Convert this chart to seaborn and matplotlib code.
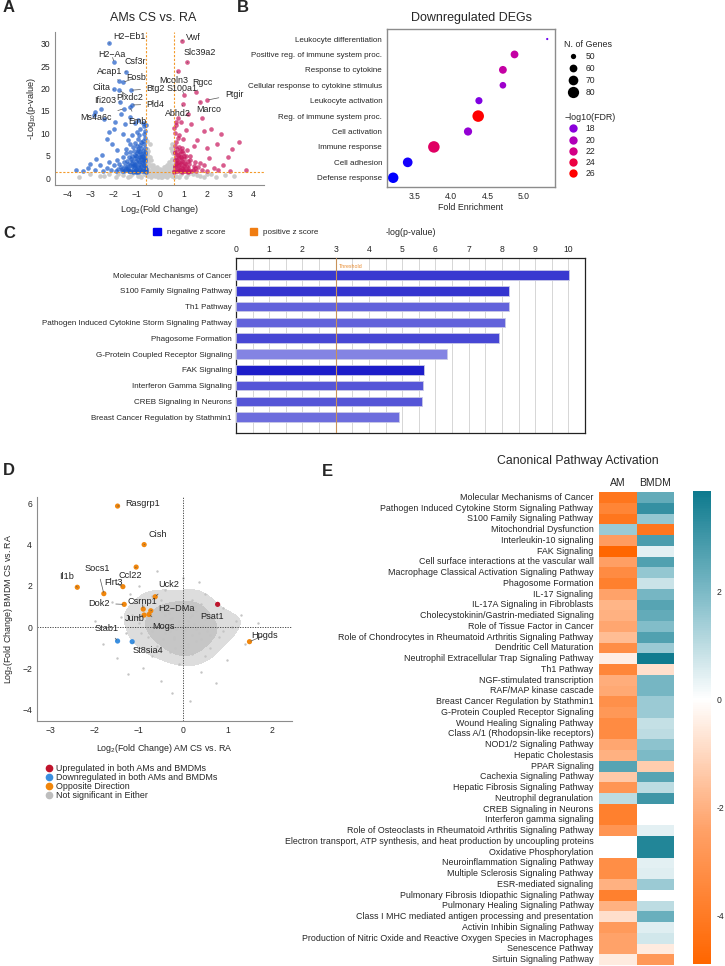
import numpy as np
import pandas as pd
import seaborn as sns
import matplotlib.pyplot as plt
from matplotlib.colors import LinearSegmentedColormap, ListedColormap, Normalize
from matplotlib.lines import Line2D
from matplotlib.patches import Patch

W, H = 725, 966

# ---------------- panel A: volcano, AMs CS vs RA ----------------
a_down_genes = ['H2−Eb1', 'H2−Aa', 'Csf3r', 'Acap1', 'Fosb', 'Ciita', 'Plxdc2', 'Btg2',
                'Ifi203', 'Pld4', 'Ms4a6c', 'Emb']
a_down_gx = [-2.19, -1.98, -1.48, -1.75, -1.58, -2.0, -1.75, -1.26, -1.72, -1.22, -1.55, -1.3]
a_down_gy = [30.1, 25.9, 23.7, 21.6, 21.4, 19.8, 19.6, 19.6, 17.0, 16.3, 15.5, 15.8]
a_down_tx = [-1.33, -2.08, -1.08, -2.18, -1.03, -2.54, -1.29, -0.19, -2.38, -0.19, -2.75, -0.98]
a_down_ty = [31.5, 27.5, 26.0, 23.7, 22.4, 20.2, 18.0, 20.0, 17.2, 16.5, 13.5, 12.6]

a_up_genes = ['Vwf', 'Slc39a2', 'Mcoln3', 'S100a1', 'Rgcc', 'Ptgir', 'Marco', 'Abhd2']
a_up_gx = [0.93, 1.17, 0.79, 1.03, 1.55, 2.03, 1.72, 1.0]
a_up_gy = [30.6, 25.8, 24.0, 18.6, 19.2, 17.4, 17.0, 16.5]
a_up_tx = [1.43, 1.72, 0.57, 0.93, 1.82, 3.18, 2.08, 0.76]
a_up_ty = [31.4, 28.0, 21.8, 20.0, 21.4, 18.6, 15.2, 14.3]

a_blue_x = [-0.62, -0.65, -0.68, -0.63, -0.7, -0.66, -0.72, -0.64, -0.69, -0.75, -0.63, -0.71, -0.66,
            -0.78, -0.8, -0.76, -0.82, -0.79, -0.85, -0.81, -0.88, -0.84, -0.9, -0.93, -0.89, -0.95,
            -0.92, -0.98, -0.94, -1.0, -0.97, -1.02, -1.05, -1.08, -1.03, -1.1, -1.06, -1.12, -1.15,
            -1.09, -1.18, -1.2, -1.22, -1.25, -1.19, -1.28, -1.3, -1.33, -1.36, -1.38, -1.42, -1.35,
            -1.45, -1.5, -1.52, -1.55, -1.6, -1.48, -1.65, -1.7, -1.75, -1.8, -1.85, -1.9, -2.0, -2.1,
            -2.2, -2.3, -2.45, -2.6, -2.8, -3.3, -1.2, -1.0, -0.85, -1.4, -1.6, -2.05, -2.3, -1.85,
            -2.0, -2.5, -2.75, -3.0, -1.1, -1.5, -1.95, -2.4, -2.8, -2.55, -2.85, -1.3, -0.95, -0.75,
            -1.7, -2.2, -0.7, -0.9, -3.6, -3.1, -0.61, -0.67, -0.74, -0.61,
            -0.62, -0.7, -0.78, -0.86, -0.94, -1.02, -1.1, -1.18, -1.26, -1.34, -0.66, -0.74, -0.82,
            -0.9, -0.98, -1.06, -1.14, -1.22, -1.3, -1.38, -0.64, -0.72, -0.8, -0.88, -0.96, -1.04,
            -1.12, -1.46, -1.54, -1.62]
a_blue_y = [1.5, 2.2, 3.0, 3.8, 4.5, 5.3, 6.0, 6.8, 7.5, 8.3, 9.0, 9.8, 10.6,
            1.9, 2.7, 3.5, 4.2, 5.0, 5.8, 6.6, 7.3, 8.0, 1.6, 2.4, 3.2, 4.0,
            4.8, 5.6, 6.4, 7.1, 8.8, 1.4, 2.1, 2.9, 3.7, 4.4, 5.2, 6.0, 6.9,
            7.8, 1.8, 2.6, 3.4, 4.2, 5.0, 5.8, 7.5, 1.5, 2.3, 3.1, 3.9, 4.7,
            5.6, 1.9, 2.7, 3.5, 4.6, 6.5, 1.6, 2.4, 3.2, 2.0, 4.0, 1.5, 2.8, 1.8,
            3.5, 2.2, 1.6, 2.9, 1.7, 1.5, 9.5, 10.2, 11.0, 8.4, 9.8, 7.5, 8.6, 6.2,
            11.0, 5.2, 4.3, 3.2, 12.3, 12.0, 12.5, 13.2, 14.8, 15.5, 14.0, 13.6, 13.0, 12.2,
            14.3, 10.2, 11.6, 9.6, 1.9, 2.3, 2.0, 4.2, 5.0, 11.8,
            1.4, 1.6, 1.5, 1.7, 1.4, 1.6, 1.5, 1.4, 1.6, 1.5, 2.6, 3.3, 2.5,
            3.6, 2.2, 3.2, 2.4, 3.8, 2.9, 2.0, 5.8, 4.1, 5.4, 4.6, 6.0, 4.9,
            3.0, 2.2, 1.5, 2.1]

a_red_x = [0.62, 0.65, 0.68, 0.63, 0.7, 0.66, 0.72, 0.64, 0.69, 0.75, 0.63, 0.78, 0.8, 0.76, 0.83,
           0.79, 0.86, 0.82, 0.9, 0.93, 0.88, 0.96, 0.92, 0.99, 0.95, 1.02, 1.05, 1.08, 1.03, 1.1,
           1.15, 1.2, 1.22, 1.25, 1.3, 1.28, 1.4, 1.45, 1.5, 1.55, 1.62, 1.7, 1.8, 1.9, 2.0, 2.1,
           2.3, 2.5, 2.7, 3.0, 3.4, 3.1, 2.6, 2.2, 1.9, 1.6, 1.35, 1.1, 0.9, 0.7, 1.8, 1.2, 2.45,
           2.0, 1.45, 0.75, 1.0, 0.8, 0.61, 0.67, 3.7, 2.9,
           0.62, 0.7, 0.78, 0.86, 0.94, 1.02, 1.1, 1.18, 1.26, 1.34, 0.66, 0.74, 0.82, 0.9, 0.98,
           1.06, 1.14, 1.22, 0.64, 0.72, 0.8, 0.88, 0.96, 1.04, 1.5]
a_red_y = [1.6, 2.4, 3.2, 4.0, 4.8, 5.6, 6.4, 7.2, 8.0, 9.0, 10.0, 2.0, 2.8, 3.6, 4.4,
           5.2, 6.0, 7.0, 1.5, 2.3, 3.1, 3.9, 4.7, 5.5, 6.6, 1.8, 2.6, 3.4, 4.2, 5.0,
           6.2, 1.5, 2.3, 3.1, 4.0, 5.0, 1.8, 2.7, 3.6, 1.5, 2.4, 3.3, 1.9, 2.8, 1.5, 4.5,
           2.2, 1.7, 3.0, 1.5, 8.0, 6.5, 9.8, 11.0, 10.5, 8.5, 12.0, 10.8, 12.5, 11.8, 13.5, 14.3, 7.5,
           6.8, 7.2, 13.5, 8.6, 9.5, 11.2, 12.6, 1.9, 4.6,
           1.4, 1.6, 1.5, 1.7, 1.4, 1.6, 1.5, 1.4, 1.6, 1.5, 2.6, 3.3, 2.5, 3.6, 2.2,
           3.2, 2.4, 3.8, 5.8, 4.1, 5.4, 4.6, 6.0, 4.9, 2.2]

a_gray_x = [-0.5, -0.5, -0.5, -0.5, -0.55, -0.4, -0.4, -0.4, -0.4, -0.3, -0.3, -0.3, -0.2, -0.2,
            -0.2, -0.1, -0.1, -0.1, 0.0, 0.0, 0.1, 0.1, 0.1, 0.2, 0.2, 0.2, 0.3, 0.3, 0.3, 0.4,
            0.4, 0.4, 0.5, 0.5, 0.5, 0.55, -0.45, 0.48, -3.5, -3.0, -2.6, -2.2, -1.9, -1.6, -1.3,
            -1.0, -0.8, -0.7, 0.7, 0.9, 1.1, 1.4, 1.7, 2.0, 2.4, 2.8, 3.2, -1.2, -0.9, 1.2, 0.8,
            -0.35, -0.25, -0.15, -0.05, 0.05, 0.15, 0.25, 0.35, 0.45, -0.45, -0.55, 0.52, -0.52,
            -0.56, -0.52, -0.48, -0.44, -0.56, -0.52, -0.48, -0.36, -0.32, -0.28, 0.56, 0.52,
            0.48, 0.44, 0.56, 0.52, 0.48, 0.36, 0.32, 0.28, -0.15, 0.0, 0.15, -2.4, -1.8, -1.4,
            -0.95, 1.6, 1.9, 2.2, 0.6, -0.6]
a_gray_y = [0.5, 2.0, 3.5, 5.0, 6.5, 0.3, 1.5, 2.8, 4.0, 0.6, 1.8, 3.0, 0.4, 1.4,
            2.2, 0.2, 1.0, 1.8, 0.5, 1.2, 0.3, 1.0, 1.7, 0.5, 1.5, 2.4, 0.3, 1.6, 2.9, 0.6,
            2.0, 3.6, 0.4, 2.2, 4.0, 5.8, 7.5, 6.8, 0.3, 0.8, 0.4, 1.0, 0.2, 0.7, 0.4,
            1.1, 0.3, 0.8, 0.5, 1.0, 0.3, 0.8, 0.4, 1.0, 0.3, 0.7, 0.4, 0.9, 0.6, 0.9, 0.2,
            1.0, 0.8, 0.6, 0.4, 0.3, 0.6, 0.9, 1.2, 1.4, 4.8, 8.2, 7.5, 3.0,
            5.5, 4.3, 2.8, 1.2, 3.0, 6.0, 0.9, 2.4, 1.2, 2.0, 5.5, 4.3,
            2.8, 1.2, 3.0, 6.0, 0.9, 2.4, 1.2, 2.0, 2.5, 2.0, 2.4, 0.5, 0.9, 0.2,
            0.5, 0.6, 0.2, 0.8, 0.3, 0.6]

# ---------------- panel B: GO dot plot ----------------
go_terms = ['Leukocyte differentiation', 'Positive reg. of immune system proc.',
            'Response to cytokine', 'Cellular response to cytokine stimulus',
            'Leukocyte activation', 'Reg. of immune system proc.', 'Cell activation',
            'Immune response', 'Cell adhesion', 'Defense response']
go_fold = [5.32, 4.87, 4.71, 4.71, 4.38, 4.37, 4.23, 3.76, 3.40, 3.20]
go_genes = [43, 60, 60, 55, 57, 82, 62, 82, 70, 75]
go_fdr = [16.5, 21.0, 21.0, 19.0, 17.5, 26.0, 18.5, 23.0, 14.5, 14.0]
size_ticks = [50, 60, 70, 80]
fdr_ticks = [18, 20, 22, 24, 26]

# ---------------- panel C: IPA canonical pathways ----------------
ipa_paths = ['Molecular Mechanisms of Cancer', 'S100 Family Signaling Pathway', 'Th1 Pathway',
             'Pathogen Induced Cytokine Storm Signaling Pathway', 'Phagosome Formation',
             'G-Protein Coupled Receptor Signaling', 'FAK Signaling', 'Interferon Gamma Signaling',
             'CREB Signaling in Neurons', 'Breast Cancer Regulation by Stathmin1']
ipa_logp = [10.03, 8.22, 8.22, 8.10, 7.91, 6.35, 5.67, 5.64, 5.60, 4.90]
ipa_z = [-2.9, -3.0, -2.0, -2.0, -2.6, -1.3, -3.5, -2.3, -2.3, -1.8]
ipa_threshold = 3

# ---------------- panel D: AM vs BMDM fold change ----------------
d_genes = ['Rasgrp1', 'Cish', 'Ccl22', 'Il1b', 'Socs1', 'Flrt3', 'Uck2', 'Dok2', 'Csrnp1',
           'H2−DMa', 'Junb', 'Mogs', 'Stab1', 'St8sia4', 'Psat1', 'Hpgds']
d_am = [-1.48, -0.88, -1.06, -2.39, -1.79, -1.36, -0.63, -1.33, -0.9, -0.73, -0.88, -0.77,
        -1.48, -1.15, 0.78, 1.5]
d_bmdm = [5.87, 4.0, 2.91, 1.93, 1.62, 1.96, 1.47, 1.1, 0.87, 0.79, 0.58, 0.61, -0.68, -0.71,
          1.1, -0.71]
d_group = ['opp'] * 12 + ['down', 'down', 'up', 'opp']
d_tx = [-0.92, -0.58, -1.2, -2.63, -1.93, -1.57, -0.33, -1.9, -0.93, -0.16, -1.1, -0.44,
        -1.72, -0.8, 0.65, 1.85]
d_ty = [6.0, 4.47, 2.5, 2.44, 2.83, 2.15, 2.07, 1.15, 1.23, 0.91, 0.4, 0.03, -0.06, -1.12,
        0.53, -0.39]
d_bg_x = [-2.0, -1.8, -1.6, -1.5, -1.4, -1.3, -1.2, -1.1, -1.0, -1.0, -0.9, -0.9, -0.8, -0.8,
          -0.7, -0.7, -0.6, -0.6, -0.5, -0.5, -0.4, -0.4, -0.3, -0.3, -0.2, -0.2, -0.1, -0.1,
          0.0, 0.0, 0.0, 0.1, 0.1, 0.2, 0.2, 0.3, 0.3, 0.4, 0.4, 0.5, 0.5, 0.6, 0.7, 0.8, 0.9,
          1.0, 1.1, 1.3, 1.4, 1.7, -0.25, 0.15, -0.6, 0.35, -1.25, 0.75, -0.05, 0.05, -0.15,
          0.1, -0.3, 0.2, -0.1, 0.25, -0.35, 0.0, 0.15, -0.2, 0.35, -0.05, 0.1, -0.45, 0.45,
          0.05, -0.55, 0.55, -0.4, 0.3, -0.25, 0.2, 0.0, -0.1, 0.12, -0.18, 0.28, -0.32, 0.4,
          0.6, -0.7, 0.65, -0.75, 0.9, -0.95, 1.2, -1.15, 0.5, -0.5, 0.05]
d_bg_y = [0.3, -0.8, 1.2, -1.5, 0.5, -0.3, 1.6, -1.0, 0.2, 2.0, -2.0, 1.0, -0.5, 0.6,
          -1.4, 1.5, 0.0, -0.9, 0.8, -2.6, -0.3, 1.8, 0.4, -1.2, -0.6, 1.1, 0.1, -1.8,
          -0.3, 0.7, 2.4, -0.8, 0.3, -1.3, 1.3, -0.1, 0.8, -0.6, -2.2, 0.4, 1.6, -1.0, 0.2, -0.5, 0.9,
          -1.6, 0.0, 0.6, -0.8, 0.2, -3.2, -3.6, 2.7, 2.2, -2.3, -2.7, 0.05, -0.15, -0.1,
          0.1, -0.2, -0.4, 0.3, 0.15, 0.1, -0.6, 0.5, -0.5, -0.3, -0.9, 0.9, -0.6, 0.05,
          -1.1, 0.2, -0.2, 0.6, -0.7, 0.45, 0.6, -1.3, 1.2, -0.95, -1.0, 1.0, 0.7, 1.1,
          -0.4, -0.2, 0.6, 0.4, -0.2, -0.3, 0.3, 0.6, -1.4, 1.3, 0.0]
d_groups = {'up': ('Upregulated in both AMs and BMDMs', '#c0142c'),
            'down': ('Downregulated in both AMs and BMDMs', '#3a8fe0'),
            'opp': ('Opposite Direction', '#f0860c'),
            'ns': ('Not significant in Either', '#bdbdbd')}

# ---------------- panel E: canonical pathway activation (z-scores) ----------------
e_paths = ['Molecular Mechanisms of Cancer', 'Pathogen Induced Cytokine Storm Signaling Pathway',
           'S100 Family Signaling Pathway', 'Mitochondrial Dysfunction', 'Interleukin-10 signaling',
           'FAK Signaling', 'Cell surface interactions at the vascular wall',
           'Macrophage Classical Activation Signaling Pathway', 'Phagosome Formation',
           'IL-17 Signaling', 'IL-17A Signaling in Fibroblasts',
           'Cholecystokinin/Gastrin-mediated Signaling', 'Role of Tissue Factor in Cancer',
           'Role of Chondrocytes in Rheumatoid Arthritis Signaling Pathway',
           'Dendritic Cell Maturation', 'Neutrophil Extracellular Trap Signaling Pathway',
           'Th1 Pathway', 'NGF-stimulated transcription', 'RAF/MAP kinase cascade',
           'Breast Cancer Regulation by Stathmin1', 'G-Protein Coupled Receptor Signaling',
           'Wound Healing Signaling Pathway', 'Class A/1 (Rhodopsin-like receptors)',
           'NOD1/2 Signaling Pathway', 'Hepatic Cholestasis', 'PPAR Signaling',
           'Cachexia Signaling Pathway', 'Hepatic Fibrosis Signaling Pathway',
           'Neutrophil degranulation', 'CREB Signaling in Neurons', 'Interferon gamma signaling',
           'Role of Osteoclasts in Rheumatoid Arthritis Signaling Pathway',
           'Electron transport, ATP synthesis, and heat production by uncoupling proteins',
           'Oxidative Phosphorylation', 'Neuroinflammation Signaling Pathway',
           'Multiple Sclerosis Signaling Pathway', 'ESR-mediated signaling',
           'Pulmonary Fibrosis Idiopathic Signaling Pathway', 'Pulmonary Healing Signaling Pathway',
           'Class I MHC mediated antigen processing and presentation',
           'Activin Inhibin Signaling Pathway',
           'Production of Nitric Oxide and Reactive Oxygen Species in Macrophages',
           'Senescence Pathway', 'Sirtuin Signaling Pathway']
e_am = [-4.2, -3.6, -4.2, 1.5, -2.6, -4.9, -2.5, -3.3, -3.8, -2.4, -1.9, -2.0, -2.3, -1.7,
        -3.2, -0.4, -3.5, -2.1, -2.2, -3.1, -2.8, -3.3, -3.3, -2.3, -2.0, 2.6, -1.4, -2.9,
        1.0, -3.8, -3.8, -2.9, np.nan, np.nan, -3.2, -3.2, -2.0, -3.8, -2.0, -0.8, -2.7,
        -2.4, -2.4, -0.5]
e_bmdm = [2.4, 3.2, 1.6, -4.2, 2.8, 0.4, 2.7, 1.6, 0.8, 2.1, 2.6, 2.4, 1.9, 2.7, 1.5, 3.8,
          -0.8, 2.1, 2.1, 1.5, 1.5, 0.9, 1.0, 1.7, 2.0, -1.3, 2.6, 1.0, 3.0, np.nan, np.nan,
          0.4, 3.5, 3.5, 0.4, 0.5, 1.5, np.nan, 1.0, 2.3, 0.5, 0.7, -0.5, -2.8]
e_vmin, e_vmax = -4.9, 3.85
e_ticks = [-4, -2, 0, 2]


sns.set_theme(style='white')
plt.rcParams['font.family'] = ['Liberation Sans', 'DejaVu Sans']
plt.rcParams['mathtext.fontset'] = 'custom'
plt.rcParams['mathtext.rm'] = 'Liberation Sans'
plt.rcParams['mathtext.it'] = 'Liberation Sans'
plt.rcParams['axes.linewidth'] = 0.8

fig = plt.figure(figsize=(W / 100, H / 100), dpi=100)


def px_axes(x0, y0, x1, y1):
    # axes from pixel box (top-left origin)
    return fig.add_axes([x0 / W, 1 - y1 / H, (x1 - x0) / W, (y1 - y0) / H])


def panel_label(x, y, s):
    fig.text(x / W, 1 - y / H, s, fontsize=12, fontweight='bold', va='center', ha='left')


def light_spines(ax, color='#8c8c8c'):
    sns.despine(ax=ax)
    for side in ['left', 'bottom']:
        ax.spines[side].set_color(color)
        ax.spines[side].set_linewidth(0.8)
    ax.tick_params(length=2, width=0.6, color=color, labelsize=6.2, pad=1.5)


# ---- A ----
axA = px_axes(55, 32, 264, 185)
sns.scatterplot(x=a_gray_x, y=a_gray_y, color='#cccccc', s=11, linewidth=0, ax=axA)
sns.scatterplot(x=a_blue_x + a_down_gx, y=a_blue_y + a_down_gy, color='#1d5bc8', alpha=0.7,
                s=11, linewidth=0, ax=axA)
sns.scatterplot(x=a_red_x + a_up_gx, y=a_red_y + a_up_gy, color='#c8175d', alpha=0.7,
                s=11, linewidth=0, ax=axA)
for g, x, y, tx, ty in zip(a_down_genes + a_up_genes, a_down_gx + a_up_gx, a_down_gy + a_up_gy,
                           a_down_tx + a_up_tx, a_down_ty + a_up_ty):
    axA.annotate(g, (x, y), xytext=(tx, ty), fontsize=6.4, ha='center', va='center',
                 color='#222222',
                 arrowprops=dict(arrowstyle='-', color='#555555', lw=0.5, shrinkA=2, shrinkB=1))
for v in [-0.585, 0.585]:
    axA.axvline(v, color='#f39a2a', lw=0.8, ls=(0, (2, 1.5)))
axA.axhline(1.3, color='#f39a2a', lw=0.8, ls=(0, (2, 1.5)))
axA.set_xlim(-4.52, 4.47)
axA.set_ylim(-1.56, 32.6)
axA.set_xticks(range(-4, 5))
axA.set_yticks(range(0, 31, 5))
light_spines(axA)
axA.set_xlabel('Log$_2$(Fold Change)', fontsize=6.6, labelpad=3)
axA.set_ylabel('-Log$_{10}$(p-value)', fontsize=6.6, labelpad=2)
axA.set_title('AMs CS vs. RA', fontsize=9, pad=8, x=0.47)
panel_label(3, 8, 'A')

# ---- B ----
fdr_cmap = LinearSegmentedColormap.from_list(
    'fdr', ['#0000ff', '#6a00f0', '#9a00d0', '#c800a0', '#e80050', '#ff0000'])
fdr_norm = Normalize(14, 26)
s_lo, s_hi = 2.5, 69
n_lo, n_hi = min(go_genes), max(go_genes)


def dot_size(n):
    return s_lo + (n - n_lo) / (n_hi - n_lo) * (s_hi - s_lo)


axB = px_axes(387, 29, 555, 187)
sns.scatterplot(x=go_fold, y=go_terms, hue=go_fdr, palette=fdr_cmap, hue_norm=fdr_norm,
                size=go_genes, sizes=(s_lo, s_hi), size_norm=(n_lo, n_hi), linewidth=0,
                legend=False, ax=axB)
axB.set_xlim(3.115, 5.427)
axB.set_ylim(9.6, -0.65)
axB.set_xticks([3.5, 4.0, 4.5, 5.0])
for sp in axB.spines.values():
    sp.set_color('#8c8c8c')
    sp.set_linewidth(1.0)
axB.tick_params(length=2, width=0.6, color='#333333', labelsize=5.8, pad=1.5)
axB.tick_params(axis='x', labelsize=6.2)
axB.set_xlabel('Fold Enrichment', fontsize=6.4, labelpad=1.5)
axB.set_title('Downregulated DEGs', fontsize=9, pad=6)
panel_label(237, 8, 'B')

size_handles = [Line2D([], [], ls='', marker='o', color='black', markeredgewidth=0,
                       markersize=np.sqrt(dot_size(n))) for n in size_ticks]
fig.legend(size_handles, [str(n) for n in size_ticks], title='N. of Genes',
           loc='upper left', bbox_to_anchor=(560 / W, 1 - 36 / H), frameon=False,
           fontsize=6.2, title_fontsize=6.4, handletextpad=0.5, labelspacing=0.35,
           alignment='left', borderpad=0)
fdr_handles = [Line2D([], [], ls='', marker='o', color=fdr_cmap(fdr_norm(v)),
                      markeredgewidth=0, markersize=6) for v in fdr_ticks]
fig.legend(fdr_handles, [str(v) for v in fdr_ticks], title='−log10(FDR)',
           loc='upper left', bbox_to_anchor=(560 / W, 1 - 109 / H), frameon=False,
           fontsize=6.2, title_fontsize=6.4, handletextpad=0.5, labelspacing=0.25,
           alignment='left', borderpad=0)

# ---- C ----
z_cmap = LinearSegmentedColormap.from_list('z', ['#8484f4', '#0000e6'])
bar_colors = [z_cmap((-z - 1) / 2.5) for z in ipa_z]
axC = px_axes(236, 258, 585, 433)
sns.barplot(x=ipa_logp, y=ipa_paths, hue=ipa_paths, palette=bar_colors, legend=False,
            orient='h', width=0.6, edgecolor='#c9c9e6', linewidth=0.6, ax=axC, zorder=3)
axC.set_xlim(0, 10.5)
axC.set_ylim(10.0, -1.08)
axC.set_xticks(range(0, 11))
axC.set_xticks(np.arange(0.5, 10.5, 1.0), minor=True)
axC.grid(axis='x', which='both', color='#d6d6d6', lw=0.7, zorder=0)
axC.set_axisbelow(True)
axC.xaxis.tick_top()
axC.xaxis.set_label_position('top')
axC.tick_params(axis='x', which='both', length=0, labelsize=6.2, pad=3)
axC.tick_params(axis='y', length=0, labelsize=5.8, pad=3)
axC.set_xlabel('-log(p-value)', fontsize=6.4, labelpad=7)
for sp in axC.spines.values():
    sp.set_color('#222222')
    sp.set_linewidth(0.9)
axC.axvline(ipa_threshold, color='#c8925a', lw=0.8, zorder=4)
axC.text(ipa_threshold + 0.1, -0.55, 'Threshold', fontsize=3.8, color='#e88a2e',
         va='center', ha='left', zorder=5)
fig.legend([Patch(color='#0000f0'), Patch(color='#f07d12')],
           ['negative z score', 'positive z score'], loc='center',
           bbox_to_anchor=(236 / W, 1 - 232 / H), ncol=2, frameon=False, fontsize=5.8,
           handlelength=0.9, handleheight=0.9, handletextpad=0.8, columnspacing=3.0)
panel_label(3, 234, 'C')

# ---- D ----
axD = px_axes(37, 497, 292, 721)
sns.kdeplot(x=d_bg_x, y=d_bg_y, fill=True, levels=[0.3, 0.55, 1.0],
            cmap=ListedColormap(['#dddddd', '#c6c6c6']), bw_adjust=0.9, ax=axD)
sns.scatterplot(x=d_bg_x, y=d_bg_y, color='#c4c4c4', s=3, linewidth=0, ax=axD)
axD.axvline(0, color='#333333', lw=0.6, ls=(0, (1.5, 1.5)))
axD.axhline(0, color='#333333', lw=0.6, ls=(0, (1.5, 1.5)))
sns.scatterplot(x=d_am, y=d_bmdm, hue=d_group, palette={k: v[1] for k, v in d_groups.items()},
                s=14, linewidth=0, legend=False, ax=axD, zorder=4)
for g, x, y, tx, ty in zip(d_genes, d_am, d_bmdm, d_tx, d_ty):
    axD.annotate(g, (x, y), xytext=(tx, ty), fontsize=6.6, ha='center', va='center',
                 color='#222222', zorder=5,
                 arrowprops=dict(arrowstyle='-', color='#555555', lw=0.5, shrinkA=2, shrinkB=1))
axD.set_xlim(-3.3, 2.46)
axD.set_ylim(-4.56, 6.31)
axD.set_xticks(range(-3, 3))
axD.set_yticks(range(-4, 7, 2))
light_spines(axD)
axD.set_xlabel('Log$_2$(Fold Change) AM CS vs. RA', fontsize=6.4, labelpad=5)
axD.set_ylabel('Log$_2$(Fold Change) BMDM CS vs. RA', fontsize=6.4, labelpad=5)
d_handles = [Line2D([], [], ls='', marker='o', color=v[1], markersize=4.5)
             for v in d_groups.values()]
fig.legend(d_handles, [v[0] for v in d_groups.values()], loc='upper left',
           bbox_to_anchor=(40 / W, 1 - 760 / H), frameon=False, fontsize=6.4,
           handletextpad=0.3, labelspacing=0.0, handlelength=1.0, borderpad=0)
panel_label(3, 470, 'D')

# ---- E ----
split = -e_vmin / (e_vmax - e_vmin)
e_cmap = LinearSegmentedColormap.from_list(
    'act', [(0.0, '#ff6600'), (split * 0.5, '#ffa066'), (split, '#ffffff'),
            (split + (1 - split) * 0.5, '#80bcc8'), (1.0, '#0e7a8e')])
e_df = pd.DataFrame({'AM': e_am, 'BMDM': e_bmdm}, index=e_paths)
axE = px_axes(599, 492, 674, 965)
cax = px_axes(693, 491, 711, 964)
sns.heatmap(e_df, cmap=e_cmap, vmin=e_vmin, vmax=e_vmax, ax=axE, cbar_ax=cax,
            xticklabels=True, yticklabels=True, cbar_kws={'ticks': e_ticks})
axE.set_facecolor('white')
axE.xaxis.tick_top()
axE.tick_params(axis='x', length=0, labelsize=7.5, pad=3)
axE.tick_params(axis='y', length=3, width=0.6, color='#444444', labelsize=6.4, pad=1)
axE.set_ylabel('')
cax.set_yticklabels([str(t) for t in e_ticks])
cax.tick_params(length=0, labelsize=6.2, pad=4)
axE.collections[0].colorbar.outline.set_visible(False)
fig.text(578 / W, 1 - 461 / H, 'Canonical Pathway Activation', fontsize=8.8, ha='center',
         va='center')
panel_label(322, 472, 'E')

fig.savefig('out.png', dpi=100)
